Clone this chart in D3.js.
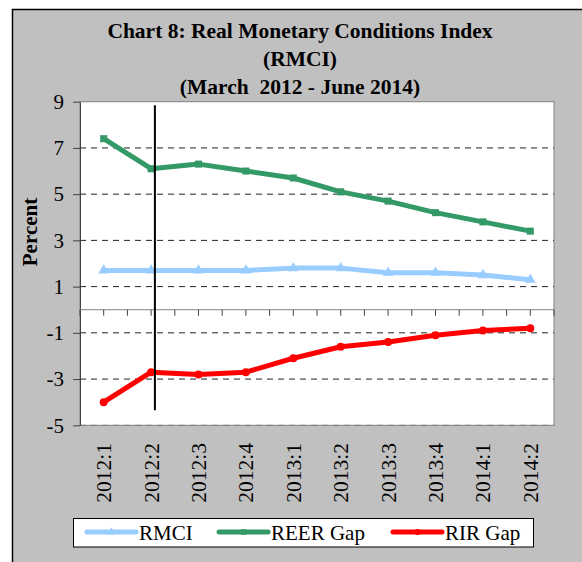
<!DOCTYPE html>
<html>
<head>
<meta charset="utf-8">
<script src="https://cdn.jsdelivr.net/npm/d3@7"></script>
<style>
  body { margin: 0; background: #fff; }
  text { font-family: "Liberation Serif", "Times New Roman", serif; fill: #000; }
</style>
</head>
<body>
<svg id="chart" width="582" height="562"></svg>
<script>
// Chart data
const categories = ["2012:1", "2012:2", "2012:3", "2012:4", "2013:1", "2013:2", "2013:3", "2013:4", "2014:1", "2014:2"];
const rmci = [1.7, 1.7, 1.7, 1.7, 1.8, 1.8, 1.6, 1.6, 1.5, 1.3];
const reerGap = [7.4, 6.1, 6.3, 6.0, 5.7, 5.1, 4.7, 4.2, 3.8, 3.4];
const rirGap = [-4.0, -2.7, -2.8, -2.7, -2.1, -1.6, -1.4, -1.1, -0.9, -0.8];
const yTicks = [9, 7, 5, 3, 1, -1, -3, -5];
const gridValues = [7, 5, 3, 1, -1, -3, -5];
const titleLines = ["Chart 8: Real Monetary Conditions Index", "(RMCI)", "(March  2012 - June 2014)"];
// vertical marker drawn just after 2012:2
const markerCategory = "2012:2";
const markerOffset = 0.08; // fraction of a band
const markerRange = [8.85, -4.35];

const series = [
  { name: "RMCI", values: rmci, color: "#99ccff", symbol: d3.symbolTriangle },
  { name: "REER Gap", values: reerGap, color: "#339966", symbol: d3.symbolSquare },
  { name: "RIR Gap", values: rirGap, color: "#ff0000", symbol: d3.symbolCircle },
];

const LAYOUT = { left: 80, right: 554, top: 101.7, bottom: 425.3 };

const svg = d3.select("#chart");

// Gray chart background
svg.append("rect")
  .attr("x", 12.5).attr("y", 9.5)
  .attr("width", 620).attr("height", 620)
  .attr("fill", "#c0c0c0")
  .attr("stroke", "#000").attr("stroke-width", 1.5);

// Title
svg.append("g")
  .selectAll("text")
  .data(titleLines)
  .join("text")
  .attr("x", 300)
  .attr("y", (d, i) => 38 + i * 28)
  .attr("text-anchor", "middle")
  .attr("font-weight", "bold")
  .attr("font-size", 21.5)
  .style("white-space", "pre")
  .text((d) => d);

const x = d3.scaleBand().domain(categories).range([LAYOUT.left, LAYOUT.right]);
const y = d3.scaleLinear().domain([-5, 9]).range([LAYOUT.bottom, LAYOUT.top]);
const cx = (c) => x(c) + x.bandwidth() / 2;

// Plot area
svg.append("rect")
  .attr("x", LAYOUT.left).attr("y", LAYOUT.top)
  .attr("width", LAYOUT.right - LAYOUT.left)
  .attr("height", LAYOUT.bottom - LAYOUT.top)
  .attr("fill", "#fff")
  .attr("stroke", "#808080");

// Dashed grid
svg.append("g")
  .selectAll("line")
  .data(gridValues)
  .join("line")
  .attr("x1", LAYOUT.left).attr("x2", LAYOUT.right)
  .attr("y1", (d) => y(d)).attr("y2", (d) => y(d))
  .attr("stroke", (d) => (d === -5 ? "#808080" : "#222"))
  .attr("stroke-dasharray", "6,5");

// Y axis (plain hyphen for negatives)
const gy = svg.append("g")
  .attr("transform", `translate(${LAYOUT.left},0)`)
  .call(d3.axisLeft(y).tickValues(yTicks).tickSize(7).tickPadding(9).tickSizeOuter(0)
    .tickFormat((d) => String(d)));
gy.select(".domain").attr("stroke", "#404040");
gy.selectAll(".tick line").attr("stroke", "#404040");
gy.selectAll(".tick text")
  .attr("font-family", "Liberation Serif, Times New Roman, serif")
  .attr("font-size", 21);

svg.append("text")
  .attr("transform", "translate(37,232) rotate(-90)")
  .attr("text-anchor", "middle")
  .attr("font-weight", "bold")
  .attr("font-size", 21)
  .text("Percent");

// X axis along zero, ticks at centres and band edges
const gx = svg.append("g");
gx.append("line")
  .attr("x1", LAYOUT.left).attr("x2", LAYOUT.right)
  .attr("y1", y(0)).attr("y2", y(0))
  .attr("stroke", "#808080");
const tickPos = categories.flatMap((c) => [x(c), cx(c)]).concat([x(categories[categories.length - 1]) + x.bandwidth()]);
gx.selectAll("line.tick")
  .data(tickPos)
  .join("line")
  .attr("class", "tick")
  .attr("x1", (d) => d).attr("x2", (d) => d)
  .attr("y1", y(0)).attr("y2", y(0) + 6)
  .attr("stroke", "#404040");

svg.append("g")
  .selectAll("text")
  .data(categories)
  .join("text")
  .attr("transform", (d) => `translate(${cx(d)},443) rotate(-90)`)
  .attr("text-anchor", "end")
  .attr("dy", "0.35em")
  .attr("font-size", 21.5)
  .text((d) => d);

// Lines
const line = d3.line()
  .x((d, i) => cx(categories[i]))
  .y((d) => y(d));

const gs = svg.append("g")
  .selectAll("g")
  .data(series)
  .join("g");

gs.append("path")
  .attr("d", (s) => line(s.values))
  .attr("fill", "none")
  .attr("stroke", (s) => s.color)
  .attr("stroke-width", 5)
  .attr("stroke-linejoin", "round");

gs.each(function (s) {
  d3.select(this)
    .selectAll("path.pt")
    .data(s.values)
    .join("path")
    .attr("class", "pt")
    .attr("transform", (d, i) => `translate(${cx(categories[i])},${y(d)})`)
    .attr("d", d3.symbol().type(s.symbol).size(50))
    .attr("fill", s.color);
});

// Vertical marker line
const mx = cx(markerCategory) + markerOffset * x.bandwidth();
svg.append("line")
  .attr("x1", mx).attr("x2", mx)
  .attr("y1", y(markerRange[0])).attr("y2", y(markerRange[1]))
  .attr("stroke", "#000")
  .attr("stroke-width", 2);

// Legend
const legend = svg.append("g");
legend.append("rect")
  .attr("x", 73.5).attr("y", 518.5)
  .attr("width", 460).attr("height", 28.5)
  .attr("fill", "#fff")
  .attr("stroke", "#000");

const legendX = [87, 219, 393];
const li = legend.selectAll("g.item")
  .data(series)
  .join("g")
  .attr("class", "item")
  .attr("transform", (d, i) => `translate(${legendX[i]},532)`);
li.append("line")
  .attr("x1", 0).attr("x2", 49)
  .attr("stroke", (d) => d.color)
  .attr("stroke-width", 5)
  .attr("stroke-linecap", "round");
li.append("path")
  .attr("transform", "translate(24.5,0)")
  .attr("d", (d) => d3.symbol().type(d.symbol).size(30)())
  .attr("fill", (d) => d.color);
li.append("text")
  .attr("x", 52)
  .attr("y", 8)
  .attr("font-size", 21)
  .text((d) => d.name);
</script>
</body>
</html>
